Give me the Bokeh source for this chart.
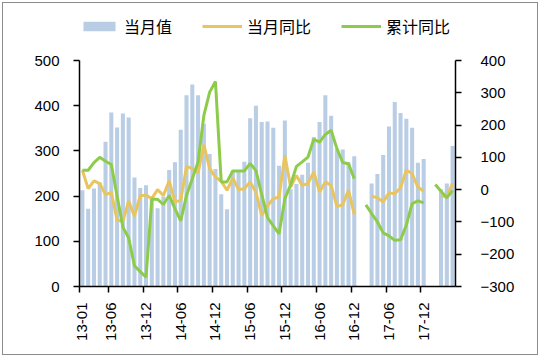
import math
from bokeh.plotting import figure
from bokeh.models import (ColumnDataSource, Range1d, LinearAxis, FixedTicker,
                          Legend, LegendItem)
from bokeh.embed import file_html
from bokeh.resources import INLINE

nan = float("nan")

# monthly categories 13-01 .. 18-05
months = [f"{y:02d}-{m:02d}" for y in range(13, 19) for m in range(1, 13)][:65]

tick_labels = ["13-01", "13-06", "13-12", "14-06", "14-12", "15-06",
               "15-12", "16-06", "16-12", "17-06", "17-12"]

# 当月值
monthly_value = [
    213, 172, 217, 230, 320, 385, 352, 383, 374, 241, 218, 224,   # 2013
    200, 173, 199, 258, 275, 347, 423, 447, 423, 360, 293, 260,   # 2014
    204, 171, 256, 256, 276, 372, 400, 364, 365, 351, 267, 367,   # 2015
    215, 227, 247, 274, 331, 364, 423, 378, 304, 303, 275, 288,   # 2016
    nan, nan, 228, 249, 291, 354, 408, 384, 371, 351, 274, 282,   # 2017
    nan, nan, 215, 228, 311,                                      # 2018
]

# 当月同比
monthly_yoy = [
    60, 3, 27, 19, -15, -9, -95, -98, -35, -82, -19, -17,
    -28, 0, -18, 27, -38, -33, 72, 65, 52, 139, 65, 39,
    26, -2, 36, 0, 3, 24, -8, -80, -50, -28, -23, 106,
    8, 44, 13, 19, 55, -7, 24, 13, -52, -47, -1, -77,
    nan, nan, -20, -25, -38, -10, -13, 6, 60, 50, 8, -5,
    nan, nan, -18, -23, 20,
]

# 累计同比
cum_yoy = [
    60, 60, 84, 100, 88, 78, -20, -116, -150, -236, -254, -271,
    -30, -30, -46, -18, -59, -97, -18, 34, 86, 230, 302, 335,
    24, 24, 58, 58, 58, 81, 59, -15, -87, -112, -137, -28,
    15, 72, 86, 101, 156, 147, 171, 184, 127, 84, 80, 34,
    nan, -47, -74, -100, -134, -143, -157, -155, -110, -43, -35, -41,
    nan, 16, -5, -25, -3,
]

left_ticks = [0, 100, 200, 300, 400, 500]
right_ticks = [-300, -200, -100, 0, 100, 200, 300, 400]

src = ColumnDataSource(dict(
    x=list(range(len(months))),
    bar=monthly_value,
    yoy=monthly_yoy,
    cum=cum_yoy,
))

BAR = "#B9CDE5"
YEL = "#E8C55E"
GRN = "#8DCC4B"
FONT = "Liberation Sans"

W, H = 540, 358
BORDER_L, BORDER_R, BORDER_T, BORDER_B = 79, 85, 10, 72
AXIS_TOP_PX = 60          # pixel row of the top of both value axes
frame_h = H - BORDER_T - BORDER_B
axis_h = H - BORDER_B - AXIS_TOP_PX
lmin, lmax = left_ticks[0], left_ticks[-1]
rmin, rmax = right_ticks[0], right_ticks[-1]
left_top = lmin + (lmax - lmin) * frame_h / axis_h
right_top = rmin + (rmax - rmin) * frame_h / axis_h

p = figure(width=W, height=H, output_backend="svg", toolbar_location=None,
           x_range=Range1d(-0.5, len(months) - 0.5),
           y_range=Range1d(lmin, left_top),
           min_border_left=BORDER_L, min_border_right=BORDER_R,
           min_border_top=BORDER_T, min_border_bottom=BORDER_B)
p.extra_y_ranges = {"right": Range1d(rmin, right_top)}
p.outline_line_color = None
p.xgrid.visible = False
p.ygrid.visible = False
p.background_fill_color = "white"
p.border_fill_color = "white"
# thin grey frame round the whole chart, as in the source picture
p.stylesheets = [
    ":host { position: relative; }"
    ":host::after { content: ''; position: absolute; left: 2px; top: 2px;"
    " right: 2px; bottom: 3px; border: 1px solid #8c8c8c;"
    " pointer-events: none; z-index: 10; }"
]

bars = p.vbar(x="x", top="bar", width=0.7, source=src, fill_color=BAR,
              line_color=None)
l1 = p.line(x="x", y="yoy", source=src, y_range_name="right",
            line_color=YEL, line_width=3)
l2 = p.line(x="x", y="cum", source=src, y_range_name="right",
            line_color=GRN, line_width=3)

# x axis: labels at category centres, tick marks at category boundaries
tick_idx = [months.index(t) for t in tick_labels]
xa = p.xaxis[0]
xa.ticker = FixedTicker(ticks=tick_idx, minor_ticks=[i - 0.5 for i in tick_idx])
xa.major_label_overrides = {i: t for i, t in zip(tick_idx, tick_labels)}
xa.major_label_orientation = math.pi / 2
xa.major_tick_out = 0
xa.major_tick_in = 0
xa.minor_tick_out = 6
xa.minor_tick_in = 0
xa.minor_tick_line_color = "black"
xa.minor_tick_line_width = 1.5
xa.axis_line_color = "black"
xa.axis_line_width = 1.5
xa.major_label_text_font = FONT
xa.major_label_text_font_size = "15px"
xa.major_label_text_color = "black"
xa.major_label_standoff = 10

ya = p.yaxis[0]
ya.ticker = FixedTicker(ticks=left_ticks)
ya.bounds = (lmin, lmax)
ya.major_tick_out = 6
ya.major_tick_in = 0
ya.minor_tick_line_color = None
ya.major_tick_line_color = "black"
ya.major_tick_line_width = 1.5
ya.axis_line_color = "black"
ya.axis_line_width = 1.5
ya.major_label_text_font = FONT
ya.major_label_text_font_size = "15px"
ya.major_label_text_color = "black"
ya.major_label_standoff = 14

ra = LinearAxis(y_range_name="right", ticker=FixedTicker(ticks=right_ticks),
                bounds=(rmin, rmax))
ra.major_tick_out = 6
ra.major_tick_in = 0
ra.minor_tick_line_color = None
ra.major_tick_line_color = "black"
ra.major_tick_line_width = 1.5
ra.axis_line_color = "black"
ra.axis_line_width = 1.5
ra.major_label_text_font = FONT
ra.major_label_text_font_size = "15px"
ra.major_label_text_color = "black"
ra.major_label_standoff = 19
p.add_layout(ra, "right")

legend = Legend(items=[
    LegendItem(label="当月值", renderers=[bars]),
    LegendItem(label="当月同比", renderers=[l1]),
    LegendItem(label="累计同比", renderers=[l2]),
], orientation="horizontal", location=(0, 248))
legend.label_text_font = "Noto Sans CJK SC"
legend.label_text_font_size = "16px"
legend.label_text_color = "black"
legend.glyph_width = 40
legend.glyph_height = 12
legend.label_height = 17
legend.label_standoff = 5
legend.spacing = 30
legend.padding = 0
legend.margin = 0
legend.border_line_color = None
legend.background_fill_alpha = 0
p.add_layout(legend, "center")

open("out.html", "w").write(file_html(p, INLINE))
